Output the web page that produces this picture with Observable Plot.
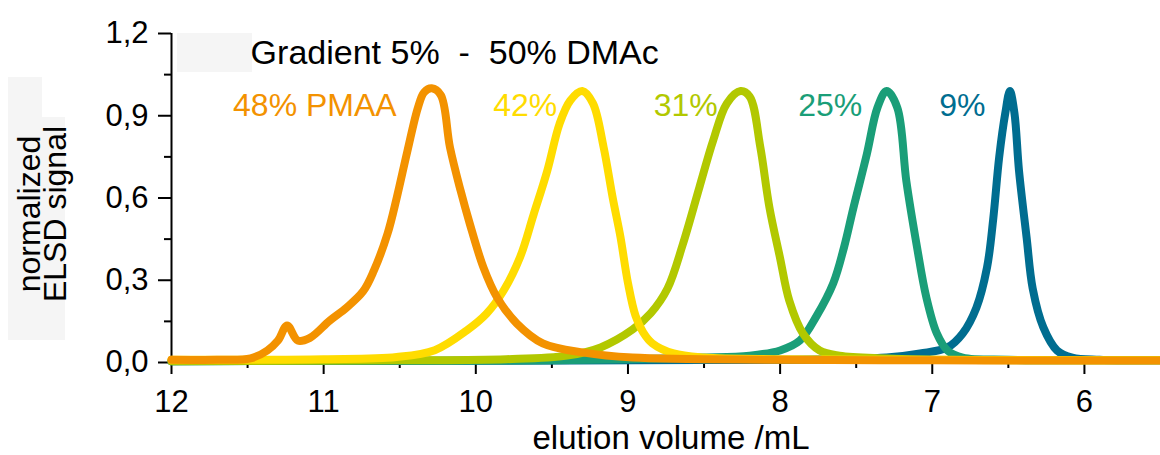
<!DOCTYPE html>
<html><head><meta charset="utf-8">
<script src="https://cdn.jsdelivr.net/npm/d3@7"></script>
<script src="https://cdn.jsdelivr.net/npm/@observablehq/plot@0.6"></script>
<style>
body{margin:0;background:#fff;}
#wrap{position:relative;width:1160px;height:455px;overflow:hidden;}
.shade{position:absolute;background:#f5f5f5;}
#chart{position:absolute;left:0;top:0;}
</style></head><body>
<div id="wrap">
<div class="shade" style="left:8px;top:77px;width:34px;height:40px"></div>
<div class="shade" style="left:8px;top:117px;width:57px;height:223px"></div>
<div class="shade" style="left:177px;top:33px;width:75px;height:39px"></div>
<div id="chart"></div>
</div>
<script>
// ---- data ----
const seriesNames = ["9%", "25%", "31%", "42%", "48% PMAA"];
const seriesColors = ["#006d90", "#1a9e78", "#b2c800", "#ffdc00", "#f39200"];

const vol9 = [12.0, 8.0, 7.30, 7.08, 6.90, 6.80, 6.71, 6.64, 6.60, 6.56, 6.52, 6.49, 6.46, 6.43, 6.38, 6.34, 6.27, 6.18, 6.08, 5.9, 5.5];
const sig9 = [0.005, 0.01, 0.018, 0.033, 0.055, 0.106, 0.2, 0.347, 0.52, 0.75, 0.91, 0.99, 0.91, 0.70, 0.456, 0.27, 0.128, 0.044, 0.018, 0.01, 0.008];

const vol25 = [12.0, 9.5, 8.53, 8.20, 8.0, 7.87, 7.76, 7.65, 7.58, 7.52, 7.43, 7.36, 7.30, 7.23, 7.17, 7.10, 7.04, 6.97, 6.90, 6.80, 6.5, 6.0, 5.5];
const sig25 = [0.005, 0.008, 0.018, 0.025, 0.044, 0.08, 0.17, 0.29, 0.42, 0.56, 0.76, 0.93, 0.99, 0.93, 0.66, 0.42, 0.24, 0.106, 0.044, 0.018, 0.01, 0.008, 0.008];

const vol31 = [12.0, 10.5, 9.8, 9.40, 9.18, 8.97, 8.85, 8.74, 8.64, 8.53, 8.44, 8.35, 8.26, 8.20, 8.13, 8.07, 8.00, 7.94, 7.85, 7.74, 7.61, 7.3, 7.0, 6.0, 5.5];
const sig31 = [0.005, 0.008, 0.012, 0.025, 0.055, 0.12, 0.18, 0.27, 0.43, 0.64, 0.81, 0.945, 0.99, 0.97, 0.785, 0.565, 0.38, 0.226, 0.106, 0.044, 0.025, 0.015, 0.01, 0.008, 0.008];

const vol42 = [12.0, 11.0, 10.52, 10.27, 10.06, 9.93, 9.82, 9.71, 9.62, 9.53, 9.45, 9.38, 9.30, 9.23, 9.16, 9.10, 9.05, 9.00, 8.95, 8.90, 8.84, 8.70, 8.50, 8.0, 7.0, 6.0, 5.5];
const sig42 = [0.01, 0.012, 0.02, 0.045, 0.117, 0.178, 0.26, 0.383, 0.54, 0.70, 0.87, 0.955, 0.99, 0.945, 0.785, 0.60, 0.46, 0.29, 0.17, 0.11, 0.07, 0.033, 0.018, 0.012, 0.01, 0.008, 0.008];

const vol48 = [12.0, 11.7, 11.48, 11.37, 11.30, 11.24, 11.17, 11.09, 10.96, 10.85, 10.74, 10.67, 10.58, 10.52, 10.45, 10.38, 10.34, 10.29, 10.23, 10.17, 10.10, 10.04, 9.95, 9.86, 9.73, 9.56, 9.29, 8.97, 8.0, 7.0, 6.0, 5.5];
const sig48 = [0.01, 0.01, 0.015, 0.044, 0.08, 0.135, 0.08, 0.09, 0.153, 0.2, 0.26, 0.335, 0.47, 0.60, 0.77, 0.93, 0.985, 1.0, 0.975, 0.785, 0.627, 0.507, 0.347, 0.237, 0.142, 0.07, 0.036, 0.018, 0.01, 0.008, 0.007, 0.007];

const labelVol = [6.65, 7.46, 8.41, 9.465, 10.52];
const labelSig = [0.935, 0.935, 0.935, 0.935, 0.935];

const yMajorTicks = [0, 0.3, 0.6, 0.9, 1.2];
const yMinorTicks = [0.15, 0.45, 0.75, 1.05];
const xMajorTicks = [12, 11, 10, 9, 8, 7, 6];
const xMinorTicks = [11.5, 10.5, 9.5, 8.5, 7.5, 6.5];

const titleText = "Gradient 5%\u00a0\u00a0-\u00a0\u00a050% DMAc";
const titleAnchor = {v: 11.48, s: 1.13};
const xLabel = "elution volume /mL";
const yLabel = "normalized\nELSD signal";

// ---- build tidy table ----
const vols = [vol9, vol25, vol31, vol42, vol48];
const sigs = [sig9, sig25, sig31, sig42, sig48];
const table = [];
seriesNames.forEach((name, i) => {
  vols[i].forEach((v, j) => table.push({series: name, v, s: sigs[i][j]}));
});
const labels = seriesNames.map((name, i) => ({series: name, v: labelVol[i], s: labelSig[i]}));

const fmt = d => d.toFixed(1).replace(".", ",");

const chart = Plot.plot({
  width: 1160,
  height: 455,
  marginLeft: 171,
  marginRight: 0,
  marginTop: 33,
  marginBottom: 93,
  style: {background: "transparent", fontFamily: "'Liberation Sans', Arial, sans-serif", color: "#000"},
  x: {domain: [12, 5.5], axis: null},
  y: {domain: [0, 1.2], axis: null},
  color: {domain: seriesNames, range: seriesColors},
  marks: [
    Plot.axisY({ticks: yMajorTicks, tickSize: 13, tickPadding: 10, tickFormat: fmt, strokeWidth: 2, fontSize: 31, label: null}),
    Plot.axisY({ticks: yMinorTicks, tickSize: 7, tickFormat: () => "", strokeWidth: 2, label: null}),
    Plot.axisX({ticks: xMajorTicks, tickSize: 12, tickPadding: 15, tickFormat: d => String(d), strokeWidth: 2, fontSize: 31, label: null}),
    Plot.axisX({ticks: xMinorTicks, tickSize: 6, tickFormat: () => "", strokeWidth: 2, label: null}),
    Plot.ruleX([12], {y1: 0, y2: 1.2, stroke: "#000", strokeWidth: 2}),
    Plot.ruleY([0], {stroke: "#000", strokeWidth: 2}),
    Plot.line(table, {x: "v", y: "s", z: "series", stroke: "series", strokeWidth: 8, curve: "catmull-rom", strokeLinejoin: "round"}),
    Plot.text(labels, {x: "v", y: "s", text: "series", fill: "series", textAnchor: "end", lineAnchor: "middle", fontSize: 32}),
    Plot.text([titleText], {x: () => titleAnchor.v, y: () => titleAnchor.s, textAnchor: "start", lineAnchor: "middle", fontSize: 34, fill: "#000"}),
    Plot.text([xLabel], {frameAnchor: "bottom", dx: 5, dy: 76, textAnchor: "middle", lineAnchor: "middle", fontSize: 33, fill: "#000"}),
    Plot.text([yLabel], {frameAnchor: "left", dx: -127, dy: 16, rotate: -90, textAnchor: "middle", lineAnchor: "middle", lineHeight: 0.8, fontSize: 32, fill: "#000"})
  ]
});
document.getElementById("chart").appendChild(chart);
</script>
</body></html>
